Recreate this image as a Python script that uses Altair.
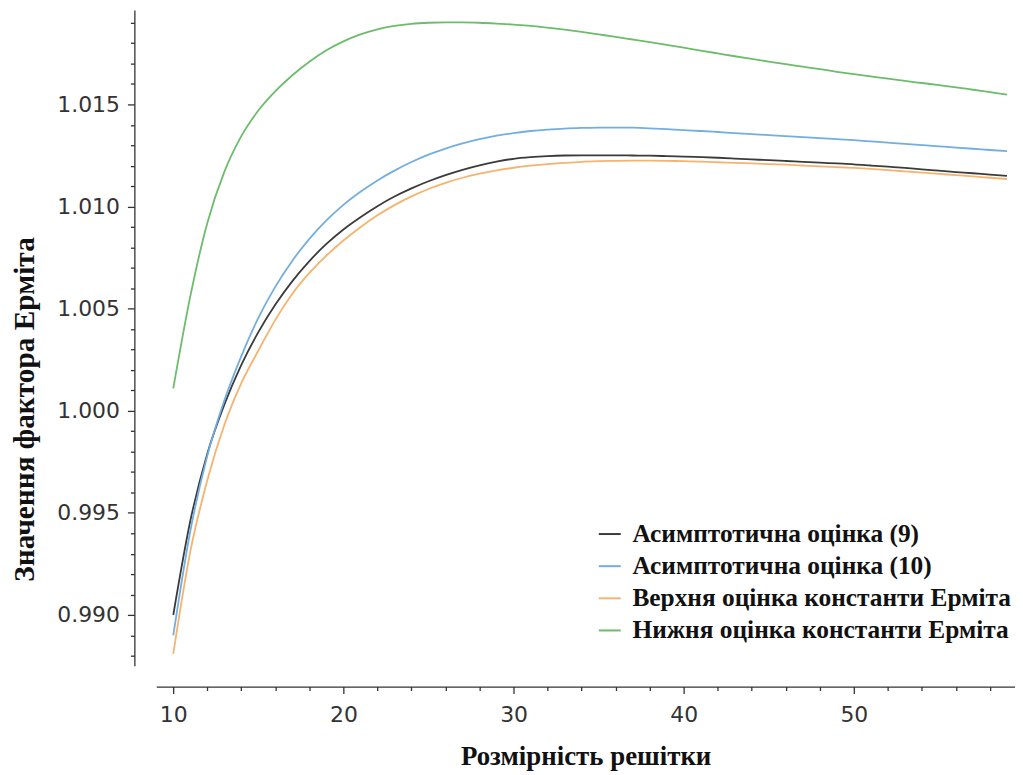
import altair as alt
import pandas as pd

# Lattice dimension
dims = list(range(10, 60))

# Asymptotic estimate (9) - black
asym9 = [0.9900, 0.9946, 0.9979, 1.0003, 1.00225, 1.00385, 1.0052, 1.00635, 1.00733, 1.00817,
         1.00888, 1.00948, 1.01002, 1.01049, 1.01089, 1.01124, 1.01154, 1.0118, 1.01202, 1.0122,
         1.01234, 1.01242, 1.01247, 1.0125, 1.01251, 1.01251, 1.01251, 1.0125, 1.01249, 1.01247,
         1.01245, 1.01242, 1.01239, 1.01235, 1.01231, 1.01227, 1.01223, 1.01219, 1.01215, 1.01211,
         1.01207, 1.01201, 1.01195, 1.01189, 1.01182, 1.01176, 1.01169, 1.01163, 1.01156, 1.0115]

# Asymptotic estimate (10) - blue
asym10 = [0.9890, 0.9941, 0.9978, 1.0005, 1.00268, 1.00455, 1.00608, 1.00735, 1.00842, 1.00932,
          1.01008, 1.01072, 1.01128, 1.01176, 1.01218, 1.01254, 1.01284, 1.01309, 1.0133, 1.01347,
          1.0136, 1.0137, 1.01377, 1.01382, 1.01385, 1.01387, 1.01387, 1.01386, 1.01383, 1.01379,
          1.01374, 1.0137, 1.01365, 1.0136, 1.01355, 1.0135, 1.01345, 1.0134, 1.01335, 1.0133,
          1.01325, 1.01319, 1.01313, 1.01307, 1.01301, 1.01295, 1.01289, 1.01283, 1.01277, 1.01271]

# Upper bound of Hermite constant - orange
upper = [0.9881, 0.9931, 0.9966, 0.9993, 1.00135, 1.00295, 1.00445, 1.00573, 1.00675, 1.0076,
         1.00834, 1.00899, 1.00957, 1.01007, 1.0105, 1.01086, 1.01116, 1.01141, 1.01161, 1.01177,
         1.0119, 1.012, 1.01208, 1.01214, 1.01219, 1.01222, 1.01224, 1.01225, 1.01225, 1.01224,
         1.01222, 1.0122, 1.01217, 1.01214, 1.01211, 1.01208, 1.01205, 1.01201, 1.01197, 1.01193,
         1.01189, 1.01184, 1.01178, 1.01172, 1.01166, 1.0116, 1.01154, 1.01148, 1.01141, 1.01135]

# Lower bound of Hermite constant - green
lower = [1.0011, 1.0056, 1.0092, 1.0117, 1.01345, 1.0147, 1.01565, 1.01643, 1.01709, 1.01765,
         1.01809, 1.01843, 1.01868, 1.01885, 1.01895, 1.019, 1.01902, 1.01902, 1.019, 1.01896,
         1.01891, 1.01885, 1.01876, 1.01866, 1.01855, 1.01843, 1.01831, 1.01818, 1.01805, 1.01792,
         1.01778, 1.01764, 1.0175, 1.01736, 1.01723, 1.0171, 1.01697, 1.01685, 1.01673, 1.0166,
         1.01648, 1.01637, 1.01626, 1.01615, 1.01605, 1.01595, 1.01584, 1.01572, 1.0156, 1.01548]

names = ["Асимптотична оцінка (9)", "Асимптотична оцінка (10)",
         "Верхня оцінка константи Ерміта", "Нижня оцінка константи Ерміта"]
colors = ["#3b3b3b", "#72aee0", "#f5b36e", "#6cbc6c"]

x_major = [10, 20, 30, 40, 50]
x_minor = [12, 14, 16, 18, 22, 24, 26, 28, 32, 34, 36, 38, 42, 44, 46, 48, 52, 54, 56, 58]
y_major = [0.990, 0.995, 1.000, 1.005, 1.010, 1.015]
y_minor = [0.988, 0.989, 0.991, 0.992, 0.993, 0.994, 0.996, 0.997, 0.998, 0.999,
           1.001, 1.002, 1.003, 1.004, 1.006, 1.007, 1.008, 1.009, 1.011, 1.012,
           1.013, 1.014, 1.016, 1.017, 1.018, 1.019]

rows = []
for name, vals in zip(names, [asym9, asym10, upper, lower]):
    for d, v in zip(dims, vals):
        rows.append({"dim": d, "val": v, "series": name})
df = pd.DataFrame(rows)

axis_common = dict(
    domainColor="#333333", domainWidth=1.3, tickColor="#333333", tickWidth=1.3,
    grid=False, labelFont="DejaVu Sans", labelFontSize=22, labelColor="#333333",
    titleFont="Liberation Serif", titleFontWeight="bold", titleColor="#111111",
)

xscale = alt.Scale(domain=[9.0, 59.47], nice=False, zero=False)
yscale = alt.Scale(domain=[0.98752, 1.01963], nice=False, zero=False)

main = alt.Chart(df).mark_line(strokeWidth=1.8, interpolate="monotone").encode(
    x=alt.X("dim:Q", scale=xscale,
            axis=alt.Axis(values=x_major, format="d", orient="bottom", offset=21,
                          tickSize=7, labelPadding=11, title="Розмірність решітки",
                          titleFontSize=27, titleBaseline="alphabetic", titleY=78,
                          **axis_common)),
    y=alt.Y("val:Q", scale=yscale,
            axis=alt.Axis(values=y_major, format=".3f", orient="left", offset=22,
                          tickSize=7, labelPadding=8, title="Значення фактора Ерміта",
                          titleFontSize=29.5, titleBaseline="alphabetic", titleX=-101, titleY=401,
                          **axis_common)),
    color=alt.Color("series:N", sort=names, title=None,
                    scale=alt.Scale(domain=names, range=colors),
                    legend=alt.Legend(orient="none", legendX=443, legendY=514, padding=0,
                                      symbolType="stroke", symbolSize=484, symbolStrokeWidth=2,
                                      labelFont="Liberation Serif", labelFontWeight="bold",
                                      labelFontSize=25.5, labelColor="#111111", labelLimit=600,
                                      labelOffset=10, rowPadding=5.3)),
)

minor = alt.Chart(df).mark_line(strokeOpacity=0).encode(
    x=alt.X("dim:Q",
            axis=alt.Axis(values=x_minor, labels=False, orient="bottom", offset=21, tickSize=4,
                          domain=False, grid=False, title="", tickColor="#333333", tickWidth=1.3)),
    y=alt.Y("val:Q",
            axis=alt.Axis(values=y_minor, labels=False, orient="left", offset=22, tickSize=4,
                          domain=False, grid=False, title="", tickColor="#333333", tickWidth=1.3)),
    detail="series:N",
)

chart = alt.layer(main, minor).resolve_axis(x="independent", y="independent").properties(
    width=863, height=659,
    autosize=alt.AutoSizeParams(type="none"),
    padding={"left": 149, "top": 0, "right": 0, "bottom": 107},
).configure_view(strokeWidth=0)

chart.save("out.html", embed_options={"renderer": "svg", "actions": False})
